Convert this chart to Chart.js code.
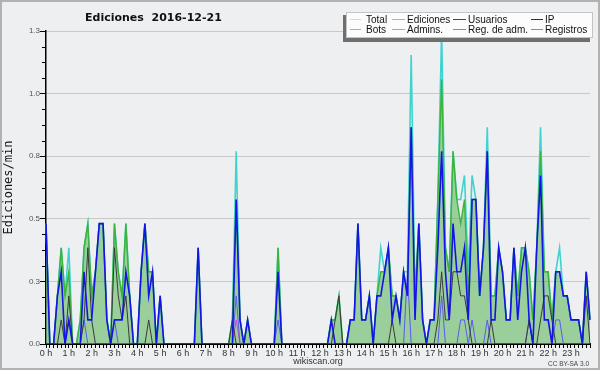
<!DOCTYPE html>
<html>
<head>
<meta charset="utf-8">
<script src="https://cdn.jsdelivr.net/npm/chart.js@4/dist/chart.umd.min.js"></script>
<style>
  html, body { margin: 0; padding: 0; background: #eeeff1; }
  canvas { display: block; }
</style>
</head>
<body>
<canvas id="chart" width="600" height="370"></canvas>
<script>
// Wikiscan style chart: edits per minute, 10-minute slots over one day.
const chartTitle = 'Ediciones  2016-12-21';
const hourLabels = ['0 h', '1 h', '2 h', '3 h', '4 h', '5 h', '6 h', '7 h', '8 h', '9 h', '10 h', '11 h',
  '12 h', '13 h', '14 h', '15 h', '16 h', '17 h', '18 h', '19 h', '20 h', '21 h', '22 h', '23 h'];
const yTicks = [0, 0.26, 0.52, 0.78, 1.04, 1.3];

// one row per hour, six 10-minute slots each
const total = [
  0.5, 0, 0, 0.2, 0.4, 0.2,
  0.4, 0, 0, 0.1, 0.4, 0.5,
  0.2, 0.3, 0.5, 0.5, 0.1, 0,
  0.5, 0.3, 0.2, 0.5, 0.2, 0,
  0, 0.3, 0.5, 0.3, 0.3, 0,
  0.2, 0, 0, 0, 0, 0,
  0, 0, 0, 0, 0.4, 0,
  0, 0, 0, 0, 0, 0,
  0, 0.1, 0.8, 0.1, 0, 0.1,
  0, 0, 0, 0, 0, 0,
  0, 0.4, 0, 0, 0, 0,
  0, 0, 0, 0, 0, 0,
  0, 0, 0, 0.1, 0.1, 0.2,
  0, 0, 0.1, 0.1, 0.5, 0.1,
  0.1, 0.2, 0, 0.2, 0.4, 0.3,
  0.4, 0.2, 0.2, 0.1, 0.3, 0.3,
  1.2, 0.2, 0.5, 0.1, 0, 0.1,
  0.1, 0.6, 1.3, 0.4, 0.3, 0.8,
  0.6, 0.6, 0.7, 0.3, 0.7, 0.6,
  0.2, 0.4, 0.9, 0.2, 0.2, 0.4,
  0.3, 0.1, 0.1, 0.4, 0.2, 0.4,
  0.4, 0.3, 0.1, 0.4, 0.9, 0.3,
  0.3, 0.1, 0.3, 0.4, 0.2, 0.2,
  0.1, 0.1, 0.1, 0, 0.3, 0.1,
];

const ediciones = [
  0.5, 0, 0, 0.2, 0.4, 0.2,
  0.3, 0, 0, 0.1, 0.4, 0.5,
  0.2, 0.3, 0.5, 0.5, 0.1, 0,
  0.5, 0.3, 0.2, 0.5, 0.2, 0,
  0, 0.3, 0.5, 0.3, 0.3, 0,
  0.2, 0, 0, 0, 0, 0,
  0, 0, 0, 0, 0.4, 0,
  0, 0, 0, 0, 0, 0,
  0, 0.1, 0.6, 0.1, 0, 0.1,
  0, 0, 0, 0, 0, 0,
  0, 0.4, 0, 0, 0, 0,
  0, 0, 0, 0, 0, 0,
  0, 0, 0, 0.1, 0.1, 0.2,
  0, 0, 0.1, 0.1, 0.5, 0.1,
  0.1, 0.2, 0, 0.2, 0.3, 0.3,
  0.4, 0.2, 0.2, 0.1, 0.3, 0.2,
  0.9, 0.2, 0.5, 0.1, 0, 0.1,
  0.1, 0.6, 1.1, 0.4, 0.3, 0.8,
  0.6, 0.5, 0.6, 0.2, 0.6, 0.6,
  0.2, 0.4, 0.8, 0.2, 0.2, 0.4,
  0.3, 0.1, 0.1, 0.4, 0.2, 0.4,
  0.4, 0.3, 0.1, 0.4, 0.8, 0.3,
  0.3, 0.1, 0.3, 0.3, 0.2, 0.2,
  0.1, 0.1, 0.1, 0, 0.3, 0.1,
];

const usuarios = [
  0.5, 0, 0, 0.2, 0.3, 0,
  0.1, 0, 0, 0, 0.3, 0.1,
  0.1, 0.3, 0.5, 0.5, 0.1, 0,
  0.1, 0.1, 0.1, 0.3, 0.2, 0,
  0, 0.3, 0.5, 0.2, 0.3, 0,
  0.2, 0, 0, 0, 0, 0,
  0, 0, 0, 0, 0.4, 0,
  0, 0, 0, 0, 0, 0,
  0, 0, 0.6, 0.1, 0, 0.1,
  0, 0, 0, 0, 0, 0,
  0, 0.3, 0, 0, 0, 0,
  0, 0, 0, 0, 0, 0,
  0, 0, 0, 0.1, 0, 0,
  0, 0, 0.1, 0.1, 0.5, 0.1,
  0.1, 0.2, 0, 0.2, 0.2, 0.3,
  0.4, 0.1, 0.2, 0.1, 0.3, 0.2,
  0.9, 0.1, 0.5, 0.1, 0, 0.1,
  0.1, 0.4, 0.8, 0.3, 0.1, 0.5,
  0.3, 0.3, 0.4, 0.1, 0.6, 0.6,
  0.2, 0.4, 0.8, 0.1, 0.1, 0.4,
  0.3, 0.1, 0.1, 0.4, 0.1, 0.3,
  0.4, 0.1, 0, 0.4, 0.7, 0.1,
  0.1, 0, 0.3, 0.3, 0.2, 0.2,
  0.1, 0.1, 0.1, 0, 0.3, 0.1,
];

const ip = [
  0, 0, 0, 0, 0.1, 0,
  0.2, 0, 0, 0, 0.1, 0.4,
  0.1, 0, 0, 0, 0, 0,
  0.4, 0.2, 0.1, 0.2, 0, 0,
  0, 0, 0, 0.1, 0, 0,
  0, 0, 0, 0, 0, 0,
  0, 0, 0, 0, 0, 0,
  0, 0, 0, 0, 0, 0,
  0, 0.1, 0, 0, 0, 0,
  0, 0, 0, 0, 0, 0,
  0, 0, 0, 0, 0, 0,
  0, 0, 0, 0, 0, 0,
  0, 0, 0, 0, 0.1, 0.2,
  0, 0, 0, 0, 0, 0,
  0, 0, 0, 0, 0, 0,
  0, 0.1, 0, 0, 0, 0,
  0, 0, 0, 0, 0, 0,
  0, 0.1, 0.3, 0.1, 0.1, 0.3,
  0.3, 0.2, 0.2, 0.1, 0, 0,
  0, 0, 0, 0.1, 0, 0,
  0, 0, 0, 0, 0, 0,
  0, 0.1, 0, 0, 0.1, 0.2,
  0.2, 0.1, 0, 0, 0, 0,
  0, 0, 0, 0, 0.2, 0,
];

const registros = [
  0, 0, 0, 0, 0, 0,
  0.1, 0, 0, 0, 0.1, 0,
  0, 0, 0, 0, 0, 0,
  0.1, 0, 0, 0, 0, 0,
  0, 0, 0, 0, 0, 0,
  0, 0, 0, 0, 0, 0,
  0, 0, 0, 0, 0, 0,
  0, 0, 0, 0, 0, 0,
  0, 0, 0.2, 0, 0, 0,
  0, 0, 0, 0, 0, 0,
  0, 0.1, 0, 0, 0, 0,
  0, 0, 0, 0, 0, 0,
  0, 0, 0, 0, 0, 0,
  0, 0, 0, 0, 0, 0,
  0, 0, 0, 0, 0, 0,
  0, 0, 0, 0, 0, 0.3,
  0, 0, 0, 0, 0, 0,
  0, 0, 0.2, 0, 0, 0,
  0, 0.1, 0.1, 0, 0.1, 0,
  0, 0, 0.1, 0, 0, 0,
  0, 0, 0, 0, 0, 0,
  0, 0.1, 0, 0, 0, 0,
  0, 0, 0.1, 0.1, 0, 0,
  0, 0, 0, 0, 0, 0,
];

const regAdm = [
  0, 0, 0, 0, 0, 0,  0, 0, 0, 0, 0, 0,  0, 0, 0, 0, 0, 0,  0, 0, 0, 0, 0, 0,
  0, 0, 0, 0, 0, 0,  0, 0, 0, 0, 0, 0,  0, 0, 0, 0, 0, 0,  0, 0, 0, 0, 0, 0,
  0, 0, 0.1, 0, 0, 0,  0, 0, 0, 0, 0, 0,  0, 0, 0, 0, 0, 0,  0, 0, 0, 0, 0, 0,
  0, 0, 0, 0, 0, 0,  0, 0, 0, 0, 0, 0,  0, 0, 0, 0, 0, 0,  0, 0, 0, 0, 0, 0,
  0, 0, 0, 0, 0, 0,  0, 0, 0, 0, 0, 0,  0, 0, 0, 0, 0, 0,  0, 0, 0, 0, 0, 0,
  0, 0, 0, 0, 0, 0,  0, 0, 0, 0, 0, 0,  0, 0, 0, 0, 0, 0,  0, 0, 0, 0, 0, 0,
];

const bots = [];
const admins = [];

const slots = total.map((_, i) => i);

// legend swatch colours (as shown in the key)
const legendColors = ['#aee6e0', '#86d086', '#3434e0', '#333333', '#f0a040', '#44d0dc', '#e050e0', '#8282f0'];

const bgPlugin = {
  id: 'wsBackground',
  beforeDraw(chart) {
    const { ctx, width, height } = chart;
    ctx.save();
    ctx.fillStyle = '#eeeff1';
    ctx.fillRect(0, 0, width, height);
    ctx.strokeStyle = '#b2b2b2';
    ctx.lineWidth = 2;
    ctx.strokeRect(1, 1, width - 2, height - 2);
    ctx.restore();
  },
};

const decorPlugin = {
  id: 'wsDecor',
  afterDraw(chart) {
    const { ctx } = chart;
    const y = chart.scales.y;
    ctx.save();

    // minor ticks on the value axis
    ctx.strokeStyle = '#000';
    ctx.lineWidth = 1;
    ctx.beginPath();
    for (let k = 1; k < 20; k++) {
      if (k % 4 === 0) continue;
      const py = Math.round(y.getPixelForValue(k * 0.065)) + 0.5;
      ctx.moveTo(y.right - 4, py);
      ctx.lineTo(y.right, py);
    }
    ctx.stroke();

    // title
    ctx.fillStyle = '#111';
    ctx.font = 'bold 11px "DejaVu Sans"';
    ctx.textBaseline = 'alphabetic';
    ctx.textAlign = 'left';
    ctx.fillText(chartTitle, 85, 21);

    // legend box with shadow
    ctx.fillStyle = '#6f6f6f';
    ctx.fillRect(343, 15, 247, 27);
    ctx.fillStyle = '#fcfcfc';
    ctx.fillRect(346, 12, 247, 26);
    ctx.strokeStyle = '#c4c4c4';
    ctx.strokeRect(346.5, 12.5, 246, 25);

    const cols = [[350, 361, 366], [392, 405, 407], [453, 466, 468], [531, 543, 545]];
    ctx.font = '10px "Liberation Sans"';
    chart.data.datasets.forEach((ds, idx) => {
      const row = idx < 4 ? 0 : 1;
      const [x0, x1, tx] = cols[idx % 4];
      const ly = row === 0 ? 19 : 29;
      ctx.strokeStyle = legendColors[idx];
      ctx.lineWidth = 1;
      ctx.beginPath();
      ctx.moveTo(x0, ly + 0.5);
      ctx.lineTo(x1, ly + 0.5);
      ctx.stroke();
      ctx.fillStyle = '#111';
      ctx.fillText(ds.label, tx, row === 0 ? 22.5 : 32.5);
    });

    // licence note
    ctx.font = '6.5px "Liberation Sans"';
    ctx.fillStyle = '#444';
    ctx.textAlign = 'right';
    ctx.fillText('CC BY-SA 3.0', 589, 365.5);
    ctx.restore();
  },
};

const lineDefaults = { pointRadius: 0, tension: 0, fill: false };

new Chart(document.getElementById('chart'), {
  type: 'line',
  data: {
    labels: slots,
    datasets: [
      { ...lineDefaults, label: 'Total', data: total, borderColor: '#3fd3d0', borderWidth: 1.6, order: 7 },
      { ...lineDefaults, label: 'Ediciones', data: ediciones, borderColor: '#3cb43c', borderWidth: 1.4,
        fill: 'origin', backgroundColor: 'rgba(70,175,70,0.5)', order: 6 },
      { ...lineDefaults, label: 'Usuarios', data: usuarios, borderColor: '#1414e6', borderWidth: 1.6, order: 0 },
      { ...lineDefaults, label: 'IP', data: ip, borderColor: '#3a3a3a', borderWidth: 1, order: 1 },
      { ...lineDefaults, label: 'Bots', data: bots, borderColor: '#f0a040', borderWidth: 1, order: 5 },
      { ...lineDefaults, label: 'Admins.', data: admins, borderColor: '#44d0dc', borderWidth: 1, order: 4 },
      { ...lineDefaults, label: 'Reg. de adm.', data: regAdm, borderColor: '#d040e0', borderWidth: 1, order: 3 },
      { ...lineDefaults, label: 'Registros', data: registros, borderColor: '#5a5af0', borderWidth: 1, order: 2 },
    ],
  },
  options: {
    responsive: false,
    animation: false,
    events: [],
    layout: { padding: { top: 31, right: 10, left: 0, bottom: 0 } },
    plugins: {
      legend: { display: false },
      tooltip: { enabled: false },
      title: { display: false },
    },
    scales: {
      x: {
        type: 'category',
        z: 1,
        afterFit(scale) { scale.height = 26; },
        border: { color: '#000', width: 2 },
        grid: { drawOnChartArea: false, drawTicks: true, tickLength: 4, tickColor: '#000' },
        ticks: {
          autoSkip: false,
          maxRotation: 0,
          padding: 0,
          color: '#333',
          font: { family: 'Liberation Sans', size: 9 },
          callback: (v, i) => (i % 6 === 0 ? hourLabels[i / 6] : ''),
        },
        title: {
          display: true,
          text: 'wikiscan.org',
          color: '#333',
          font: { family: 'Liberation Sans', size: 9 },
          padding: { top: 0, bottom: 3 },
        },
      },
      y: {
        min: 0,
        max: 1.3,
        afterFit(scale) { scale.width = 46; },
        afterBuildTicks(scale) { scale.ticks = yTicks.map(v => ({ value: v })); },
        border: { color: '#000', width: 1.5 },
        grid: { color: '#c9c9c9', lineWidth: 1, tickLength: 6, tickColor: '#000' },
        ticks: {
          padding: 0,
          color: '#555',
          font: { family: 'Liberation Sans', size: 8 },
          callback: v => Number(v).toFixed(1),
        },
        title: {
          display: true,
          text: 'Ediciones/min',
          color: '#111',
          font: { family: 'DejaVu Sans Mono', size: 12 },
          padding: { top: 2, bottom: 0 },
        },
      },
    },
  },
  plugins: [bgPlugin, decorPlugin],
});
</script>
</body>
</html>
